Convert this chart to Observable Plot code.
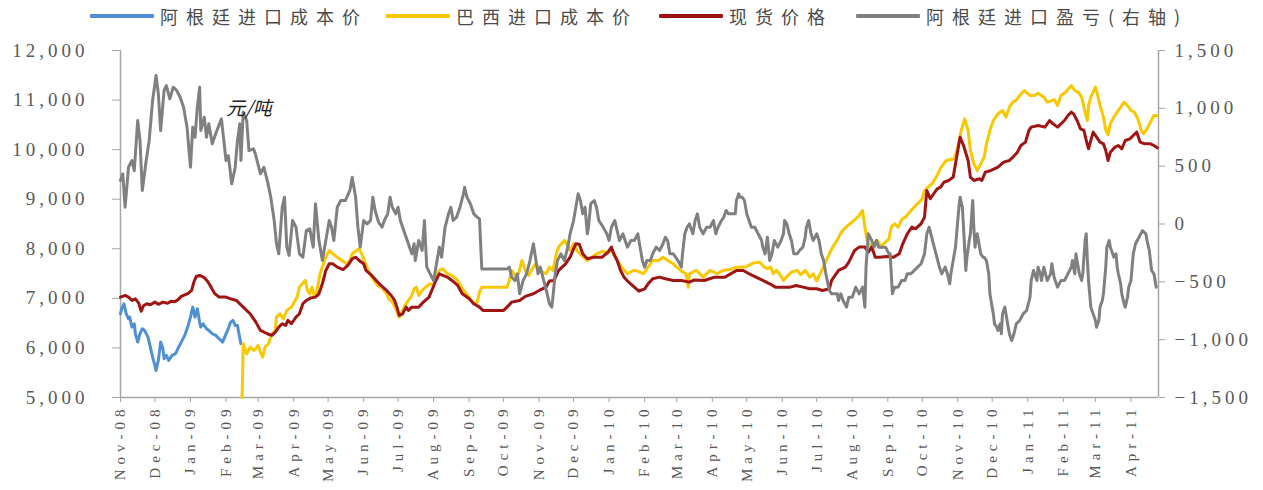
<!DOCTYPE html>
<html><head><meta charset="utf-8">
<script src="https://cdn.jsdelivr.net/npm/d3@7"></script>
<script src="https://cdn.jsdelivr.net/npm/@observablehq/plot@0.6"></script>
<style>
body{margin:0;background:#fff;width:1263px;height:490px;overflow:hidden;font-family:"Noto Sans CJK SC",sans-serif;}
#legend{position:relative;height:30px;width:1263px;}
.item{position:absolute;top:0;height:32px;display:flex;align-items:center;}
.swatch{width:64px;height:4px;margin-right:6px;border-radius:1px;}
.lab{font-size:18px;letter-spacing:8px;color:#4a4a4a;white-space:nowrap;}
#chart svg text{font-family:"Liberation Serif",serif;}
#chart [aria-label="y-axis tick label"] text{letter-spacing:4px;}
#chart [aria-label="x-axis tick label"] text{letter-spacing:5px;}
#chart [aria-label="y-axis tick"],#chart [aria-label="x-axis tick"]{stroke:#a6a6a6;}
#chart [aria-label="y-axis tick label"],#chart [aria-label="x-axis tick label"]{fill:#595959;}
#chart svg text.note, #chart svg .note text{font-family:"Noto Sans CJK SC",sans-serif;}
</style></head><body>
<div id="legend"></div>
<div id="chart"></div>
<script>
// ---- data ----
const seriesNames = ["阿根廷进口成本价", "巴西进口成本价", "现货价格", "阿根廷进口盈亏(右轴)"];
const seriesColors = ["#4f8fd6", "#f9c800", "#a01414", "#808080"];
const leftTicks = [5000, 6000, 7000, 8000, 9000, 10000, 11000, 12000];
const rightTicks = [-1500, -1000, -500, 0, 500, 1000, 1500];
const unitLabel = "元/吨";

const argentinaCost = [
["2008-11-01",6689],["2008-11-02",6790],["2008-11-04",6891],["2008-11-06",6689],["2008-11-08",6588],["2008-11-09",6622],
["2008-11-11",6421],["2008-11-13",6488],["2008-11-14",6286],["2008-11-16",6118],["2008-11-18",6286],["2008-11-20",6387],
["2008-11-22",6353],["2008-11-25",6219],["2008-11-27",6017],["2008-11-29",5815],["2008-12-01",5647],["2008-12-02",5546],
["2008-12-04",5748],["2008-12-06",6118],["2008-12-08",5983],["2008-12-09",5782],["2008-12-11",5850],["2008-12-13",5748],
["2008-12-16",5850],["2008-12-19",5883],["2008-12-21",5983],["2008-12-24",6118],["2008-12-27",6253],["2008-12-30",6454],
["2009-01-01",6622],["2009-01-03",6823],["2009-01-05",6622],["2009-01-07",6790],["2009-01-09",6521],["2009-01-10",6421],
["2009-01-12",6488],["2009-01-15",6387],["2009-01-17",6353],["2009-01-20",6286],["2009-01-23",6253],["2009-01-26",6185],
["2009-01-29",6118],["2009-02-01",6286],["2009-02-03",6387],["2009-02-05",6521],["2009-02-07",6555],["2009-02-09",6454],
["2009-02-11",6454],["2009-02-12",6320],["2009-02-14",6084]
];

const brazilCost = [
["2009-02-15",5000],["2009-02-16",6084],["2009-02-19",5883],["2009-02-22",6017],["2009-02-25",5950],["2009-02-27",5983],
["2009-03-01",6050],["2009-03-03",5916],["2009-03-05",5815],["2009-03-07",6017],["2009-03-10",6084],["2009-03-13",6286],
["2009-03-16",6353],["2009-03-17",6622],["2009-03-20",6689],["2009-03-23",6588],["2009-03-26",6756],["2009-03-30",6823],
["2009-04-04",7025],["2009-04-06",7226],["2009-04-09",7310],["2009-04-11",7361],["2009-04-13",7159],["2009-04-15",7092],
["2009-04-17",7226],["2009-04-19",7025],["2009-04-21",7126],["2009-04-24",7496],["2009-04-29",7831],["2009-05-02",7966],
["2009-05-05",7899],["2009-05-09",7831],["2009-05-14",7750],["2009-05-17",7697],["2009-05-20",7764],["2009-05-22",7899],
["2009-05-25",7950],["2009-05-28",8000],["2009-05-31",7865],["2009-06-02",7730],["2009-06-05",7563],["2009-06-09",7395],
["2009-06-13",7260],["2009-06-17",7210],["2009-06-21",7092],["2009-06-23",6991],["2009-06-26",6924],["2009-06-29",6790],
["2009-07-02",6622],["2009-07-05",6756],["2009-07-08",6891],["2009-07-10",6958],["2009-07-13",7058],["2009-07-15",7193],
["2009-07-17",7226],["2009-07-19",7058],["2009-07-22",7159],["2009-07-25",7226],["2009-07-29",7294],["2009-08-01",7260],
["2009-08-03",7428],["2009-08-06",7563],["2009-08-09",7597],["2009-08-13",7496],["2009-08-17",7462],["2009-08-22",7361],
["2009-08-26",7193],["2009-09-01",7025],["2009-09-05",6891],["2009-09-08",6924],["2009-09-10",7126],["2009-09-12",7226],
["2009-10-04",7226],["2009-10-06",7361],["2009-10-08",7563],["2009-10-11",7462],["2009-10-14",7496],["2009-10-17",7764],
["2009-10-20",7563],["2009-10-23",7462],["2009-10-26",7597],["2009-10-29",7697],["2009-11-01",7563],["2009-11-07",7496],
["2009-11-10",7630],["2009-11-13",7563],["2009-11-16",7899],["2009-11-18",8034],["2009-11-23",8168],["2009-11-26",8067],
["2009-11-28",7966],["2009-12-01",8101],["2009-12-04",7966],["2009-12-08",7865],["2009-12-13",7764],["2009-12-17",7831],
["2009-12-21",7899],["2009-12-26",7950],["2009-12-31",7910],["2010-01-03",7980],["2010-01-06",7865],["2010-01-09",7730],
["2010-01-13",7597],["2010-01-17",7496],["2010-01-22",7563],["2010-01-26",7550],["2010-01-31",7496],["2010-02-04",7630],
["2010-02-08",7764],["2010-02-13",7764],["2010-02-17",7831],["2010-02-22",7750],["2010-02-26",7697],["2010-03-01",7630],
["2010-03-05",7550],["2010-03-09",7496],["2010-03-11",7226],["2010-03-12",7496],["2010-03-18",7563],["2010-03-24",7428],
["2010-03-30",7563],["2010-04-05",7496],["2010-04-10",7563],["2010-04-16",7580],["2010-04-22",7630],["2010-05-01",7640],
["2010-05-06",7710],["2010-05-12",7731],["2010-05-16",7640],["2010-05-19",7597],["2010-05-22",7630],["2010-05-24",7496],
["2010-05-27",7563],["2010-05-30",7480],["2010-06-02",7361],["2010-06-05",7440],["2010-06-09",7530],["2010-06-14",7563],
["2010-06-17",7480],["2010-06-21",7563],["2010-06-25",7428],["2010-06-28",7496],["2010-07-01",7350],["2010-07-04",7496],
["2010-07-08",7697],["2010-07-12",7899],["2010-07-15",8034],["2010-07-19",8180],["2010-07-22",8317],["2010-07-26",8425],
["2010-07-30",8505],["2010-08-03",8585],["2010-08-07",8672],["2010-08-10",8773],["2010-08-12",8437],["2010-08-14",8168],
["2010-08-17",8047],["2010-08-20",8114],["2010-08-23",8168],["2010-08-26",8034],["2010-08-29",8114],["2010-09-02",8200],
["2010-09-04",8437],["2010-09-07",8505],["2010-09-10",8437],["2010-09-13",8585],["2010-09-17",8652],["2010-09-20",8740],
["2010-09-24",8840],["2010-09-27",8908],["2010-10-01",9009],["2010-10-03",9176],["2010-10-06",9244],["2010-10-10",9325],
["2010-10-14",9480],["2010-10-17",9633],["2010-10-22",9781],["2010-10-29",9815],["2010-11-01",10050],["2010-11-04",10386],
["2010-11-07",10622],["2010-11-10",10386],["2010-11-12",9983],["2010-11-15",9714],["2010-11-18",9580],["2010-11-21",9714],
["2010-11-24",9848],["2010-11-26",10118],["2010-11-29",10386],["2010-12-02",10588],["2010-12-06",10723],["2010-12-10",10790],
["2010-12-13",10656],["2010-12-16",10857],["2010-12-19",10958],["2010-12-22",10992],["2010-12-25",11092],["2010-12-29",11193],
["2011-01-03",11092],["2011-01-07",11092],["2011-01-10",11140],["2011-01-15",11058],["2011-01-18",10958],["2011-01-21",10980],
["2011-01-24",11010],["2011-01-27",10891],["2011-01-30",11092],["2011-02-03",11159],["2011-02-08",11294],["2011-02-11",11193],
["2011-02-14",11159],["2011-02-17",11058],["2011-02-20",10756],["2011-02-22",10588],["2011-02-23",10891],["2011-02-25",11058],
["2011-02-27",11159],["2011-03-01",11260],["2011-03-03",11092],["2011-03-05",10891],["2011-03-08",10656],["2011-03-10",10400],
["2011-03-12",10300],["2011-03-14",10521],["2011-03-17",10656],["2011-03-20",10756],["2011-03-23",10857],["2011-03-26",10958],
["2011-03-29",10891],["2011-04-01",10790],["2011-04-04",10756],["2011-04-07",10622],["2011-04-10",10386],["2011-04-12",10319],
["2011-04-15",10420],["2011-04-18",10555],["2011-04-21",10689],["2011-04-24",10689]
];

const spotPrice = [
["2008-11-01",7025],["2008-11-05",7060],["2008-11-08",7025],["2008-11-11",6958],["2008-11-14",6990],["2008-11-17",6900],
["2008-11-19",6740],["2008-11-21",6850],["2008-11-24",6891],["2008-11-27",6870],["2008-12-01",6924],["2008-12-04",6880],
["2008-12-08",6924],["2008-12-12",6900],["2008-12-15",6940],["2008-12-18",6930],["2008-12-21",6970],["2008-12-24",7040],
["2008-12-27",7070],["2008-12-30",7100],["2009-01-02",7160],["2009-01-04",7330],["2009-01-06",7440],["2009-01-09",7462],
["2009-01-13",7420],["2009-01-16",7340],["2009-01-19",7226],["2009-01-22",7100],["2009-01-26",7025],["2009-02-01",7025],
["2009-02-05",6991],["2009-02-10",6958],["2009-02-16",6823],["2009-02-22",6689],["2009-02-27",6521],["2009-03-03",6353],
["2009-03-09",6286],["2009-03-13",6252],["2009-03-16",6320],["2009-03-19",6421],["2009-03-22",6488],["2009-03-25",6454],
["2009-03-27",6555],["2009-03-30",6488],["2009-04-03",6622],["2009-04-06",6689],["2009-04-09",6891],["2009-04-12",6958],
["2009-04-16",7010],["2009-04-20",7025],["2009-04-23",7092],["2009-04-26",7294],["2009-04-29",7563],["2009-05-02",7697],
["2009-05-05",7697],["2009-05-09",7630],["2009-05-14",7580],["2009-05-18",7660],["2009-05-22",7798],["2009-05-25",7831],
["2009-05-28",7764],["2009-06-01",7697],["2009-06-03",7563],["2009-06-08",7462],["2009-06-12",7361],["2009-06-16",7260],
["2009-06-21",7159],["2009-06-25",7058],["2009-06-28",6958],["2009-06-30",6823],["2009-07-02",6656],["2009-07-05",6689],
["2009-07-08",6823],["2009-07-10",6756],["2009-07-13",6823],["2009-07-19",6823],["2009-07-23",6924],["2009-07-28",7025],
["2009-07-31",7193],["2009-08-03",7361],["2009-08-06",7496],["2009-08-09",7462],["2009-08-13",7428],["2009-08-17",7361],
["2009-08-22",7260],["2009-08-26",7092],["2009-09-01",6991],["2009-09-05",6891],["2009-09-10",6823],["2009-09-13",6756],
["2009-10-01",6756],["2009-10-04",6823],["2009-10-08",6924],["2009-10-15",6958],["2009-10-20",7040],["2009-10-27",7092],
["2009-11-01",7159],["2009-11-07",7226],["2009-11-10",7350],["2009-11-14",7361],["2009-11-18",7563],["2009-11-24",7697],
["2009-11-28",7831],["2009-12-01",8000],["2009-12-03",8101],["2009-12-06",8090],["2009-12-09",7899],["2009-12-13",7798],
["2009-12-19",7831],["2009-12-26",7831],["2009-12-31",7933],["2010-01-03",8034],["2010-01-05",7899],["2010-01-08",7764],
["2010-01-11",7563],["2010-01-14",7428],["2010-01-18",7327],["2010-01-23",7226],["2010-01-27",7145],["2010-02-01",7193],
["2010-02-04",7294],["2010-02-08",7395],["2010-02-14",7428],["2010-02-19",7395],["2010-02-26",7361],["2010-03-05",7361],
["2010-03-12",7327],["2010-03-16",7370],["2010-03-25",7361],["2010-04-03",7428],["2010-04-12",7428],["2010-04-22",7563],
["2010-04-28",7563],["2010-05-03",7496],["2010-05-09",7428],["2010-05-15",7361],["2010-05-21",7294],["2010-05-26",7226],
["2010-06-02",7226],["2010-06-08",7226],["2010-06-13",7260],["2010-06-19",7226],["2010-06-25",7193],["2010-07-01",7193],
["2010-07-06",7159],["2010-07-12",7193],["2010-07-14",7361],["2010-07-20",7563],["2010-07-26",7630],["2010-07-29",7731],
["2010-08-03",7966],["2010-08-07",8034],["2010-08-12",8034],["2010-08-15",7933],["2010-08-18",8034],["2010-08-21",7831],
["2010-08-25",7831],["2010-08-31",7845],["2010-09-06",7831],["2010-09-11",7899],["2010-09-14",8101],["2010-09-18",8303],
["2010-09-22",8437],["2010-09-25",8404],["2010-09-30",8505],["2010-10-03",8638],["2010-10-05",9176],["2010-10-08",9009],
["2010-10-11",9110],["2010-10-14",9210],["2010-10-17",9244],["2010-10-20",9344],["2010-10-24",9378],["2010-10-28",9445],
["2010-11-01",9983],["2010-11-03",10252],["2010-11-06",10084],["2010-11-10",9781],["2010-11-12",9445],["2010-11-15",9378],
["2010-11-20",9412],["2010-11-22",9378],["2010-11-25",9546],["2010-11-30",9580],["2010-12-06",9647],["2010-12-11",9747],
["2010-12-16",9781],["2010-12-19",9848],["2010-12-23",9949],["2010-12-26",10084],["2010-12-30",10151],["2011-01-02",10387],
["2011-01-04",10454],["2011-01-10",10487],["2011-01-16",10454],["2011-01-20",10588],["2011-01-23",10521],["2011-01-27",10454],
["2011-02-02",10588],["2011-02-05",10689],["2011-02-08",10756],["2011-02-10",10722],["2011-02-13",10588],["2011-02-16",10420],
["2011-02-19",10387],["2011-02-21",10185],["2011-02-23",10017],["2011-02-25",10185],["2011-02-27",10353],["2011-03-02",10252],
["2011-03-05",10151],["2011-03-08",10118],["2011-03-10",9983],["2011-03-12",9781],["2011-03-14",9949],["2011-03-18",10050],
["2011-03-21",10084],["2011-03-24",10017],["2011-03-27",10185],["2011-03-31",10218],["2011-04-03",10286],["2011-04-06",10353],
["2011-04-09",10151],["2011-04-13",10118],["2011-04-18",10118],["2011-04-21",10084],["2011-04-24",10037]
];

const argentinaMargin = [
["2008-11-01",376],["2008-11-03",434],["2008-11-05",145],["2008-11-08",491],["2008-11-11",549],["2008-11-13",462],
["2008-11-16",895],["2008-11-18",722],["2008-11-20",290],["2008-11-23",520],["2008-11-26",722],["2008-11-29",1068],
["2008-12-02",1284],["2008-12-04",1126],["2008-12-06",808],["2008-12-09",1154],["2008-12-11",1197],["2008-12-14",1082],
["2008-12-17",1183],["2008-12-20",1154],["2008-12-23",1096],["2008-12-26",1010],["2008-12-29",837],["2009-01-01",491],
["2009-01-03",837],["2009-01-05",750],["2009-01-07",1010],["2009-01-09",1183],["2009-01-10",808],["2009-01-13",924],
["2009-01-15",750],["2009-01-17",866],["2009-01-20",693],["2009-01-23",780],["2009-01-28",909],["2009-02-01",549],
["2009-02-03",592],["2009-02-06",347],["2009-02-09",491],["2009-02-11",722],["2009-02-13",866],["2009-02-14",549],
["2009-02-16",967],["2009-02-19",895],["2009-02-21",635],["2009-02-25",650],["2009-02-27",592],["2009-03-03",434],
["2009-03-06",491],["2009-03-09",376],["2009-03-12",232],["2009-03-15",30],["2009-03-17",-171],["2009-03-19",-258],
["2009-03-22",145],["2009-03-24",232],["2009-03-26",-200],["2009-03-28",-272],["2009-03-31",30],["2009-04-03",-28],
["2009-04-06",-258],["2009-04-09",-287],["2009-04-12",-57],["2009-04-15",-42],["2009-04-18",-200],["2009-04-20",175],
["2009-04-23",-143],["2009-04-26",-316],["2009-04-29",-143],["2009-05-02",30],["2009-05-04",-28],["2009-05-06",-143],
["2009-05-09",145],["2009-05-12",203],["2009-05-16",203],["2009-05-20",290],["2009-05-22",405],["2009-05-25",232],
["2009-05-27",-28],["2009-05-29",-200],["2009-06-01",30],["2009-06-04",1],["2009-06-07",30],["2009-06-09",232],
["2009-06-11",117],["2009-06-14",15],["2009-06-17",-28],["2009-06-19",30],["2009-06-22",88],["2009-06-24",232],
["2009-06-26",145],["2009-06-29",88],["2009-07-01",145],["2009-07-03",30],["2009-07-05",-28],["2009-07-08",-114],
["2009-07-10",-171],["2009-07-13",-258],["2009-07-15",-171],["2009-07-16",-316],["2009-07-19",-143],["2009-07-22",-229],
["2009-07-24",30],["2009-07-26",-373],["2009-07-29",-431],["2009-08-01",-489],["2009-08-04",-316],["2009-08-06",-200],
["2009-08-08",-287],["2009-08-11",-28],["2009-08-14",88],["2009-08-16",145],["2009-08-18",30],["2009-08-21",59],
["2009-08-24",145],["2009-08-27",261],["2009-08-28",318],["2009-08-30",232],["2009-09-02",175],["2009-09-05",88],
["2009-09-08",59],["2009-09-10",44],["2009-09-12",-388],["2009-09-22",-388],["2009-10-04",-388],["2009-10-06",-373],
["2009-10-08",-460],["2009-10-11",-489],["2009-10-13",-431],["2009-10-15",-604],["2009-10-18",-489],["2009-10-21",-431],
["2009-10-24",-316],["2009-10-27",-171],["2009-10-31",-431],["2009-11-02",-373],["2009-11-05",-489],["2009-11-08",-604],
["2009-11-10",-690],["2009-11-12",-719],["2009-11-13",-633],["2009-11-15",-431],["2009-11-17",-316],["2009-11-20",-258],
["2009-11-23",-316],["2009-11-26",-200],["2009-11-28",-85],["2009-12-01",30],["2009-12-03",145],["2009-12-05",261],
["2009-12-07",203],["2009-12-09",88],["2009-12-11",145],["2009-12-13",-85],["2009-12-14",-28],["2009-12-16",175],
["2009-12-19",203],["2009-12-21",145],["2009-12-23",30],["2009-12-26",-14],["2009-12-30",-85],["2010-01-01",-143],
["2010-01-03",-28],["2010-01-06",30],["2010-01-08",-57],["2010-01-10",-143],["2010-01-13",-85],["2010-01-15",-143],
["2010-01-17",-200],["2010-01-20",-143],["2010-01-23",-143],["2010-01-26",-85],["2010-01-28",-200],["2010-01-30",-316],
["2010-02-01",-373],["2010-02-03",-316],["2010-02-06",-316],["2010-02-08",-258],["2010-02-11",-200],["2010-02-14",-229],
["2010-02-17",-171],["2010-02-19",-114],["2010-02-21",-143],["2010-02-23",-258],["2010-02-26",-258],["2010-02-28",-287],
["2010-03-02",-316],["2010-03-05",-373],["2010-03-06",-258],["2010-03-08",-85],["2010-03-10",-28],["2010-03-12",1],
["2010-03-15",-85],["2010-03-17",30],["2010-03-19",88],["2010-03-21",-28],["2010-03-24",-85],["2010-03-27",-28],
["2010-03-30",-28],["2010-04-02",30],["2010-04-04",-85],["2010-04-06",-28],["2010-04-09",30],["2010-04-11",59],
["2010-04-13",117],["2010-04-15",88],["2010-04-18",88],["2010-04-21",88],["2010-04-22",203],["2010-04-24",261],
["2010-04-25",232],["2010-04-27",232],["2010-04-29",203],["2010-05-01",88],["2010-05-03",30],["2010-05-05",-28],
["2010-05-08",-28],["2010-05-11",-85],["2010-05-14",-143],["2010-05-15",-200],["2010-05-17",-258],["2010-05-19",-114],
["2010-05-21",-316],["2010-05-23",-258],["2010-05-25",-143],["2010-05-28",-200],["2010-05-31",-143],["2010-06-02",-85],
["2010-06-03",30],["2010-06-05",1],["2010-06-07",-85],["2010-06-09",-143],["2010-06-11",-258],["2010-06-14",-258],
["2010-06-16",-229],["2010-06-19",-200],["2010-06-21",-114],["2010-06-22",-28],["2010-06-24",30],["2010-06-26",-85],
["2010-06-28",-143],["2010-07-01",-85],["2010-07-03",-143],["2010-07-05",-258],["2010-07-07",-316],["2010-07-09",-431],
["2010-07-12",-575],["2010-07-14",-604],["2010-07-17",-604],["2010-07-19",-604],["2010-07-20",-661],["2010-07-22",-604],
["2010-07-24",-661],["2010-07-27",-719],["2010-07-29",-633],["2010-08-01",-633],["2010-08-04",-546],["2010-08-07",-604],
["2010-08-10",-546],["2010-08-12",-719],["2010-08-13",-373],["2010-08-15",-85],["2010-08-18",-143],["2010-08-20",-200],
["2010-08-22",-143],["2010-08-24",-200],["2010-08-27",-200],["2010-08-30",-200],["2010-09-02",-258],["2010-09-03",-258],
["2010-09-05",-604],["2010-09-07",-546],["2010-09-10",-546],["2010-09-13",-489],["2010-09-16",-489],["2010-09-18",-431],
["2010-09-21",-431],["2010-09-24",-402],["2010-09-27",-373],["2010-09-30",-344],["2010-10-03",-258],["2010-10-05",-85],
["2010-10-07",-28],["2010-10-10",-143],["2010-10-13",-258],["2010-10-16",-373],["2010-10-18",-431],["2010-10-21",-373],
["2010-10-23",-431],["2010-10-25",-517],["2010-10-26",-431],["2010-10-28",-316],["2010-10-30",-200],["2010-11-02",145],
["2010-11-03",232],["2010-11-05",145],["2010-11-06",-28],["2010-11-08",-402],["2010-11-09",-287],["2010-11-11",-143],
["2010-11-12",-85],["2010-11-14",203],["2010-11-15",-28],["2010-11-16",-200],["2010-11-18",-85],["2010-11-19",-143],
["2010-11-21",-258],["2010-11-23",-287],["2010-11-24",-287],["2010-11-26",-316],["2010-11-28",-431],["2010-11-29",-604],
["2010-12-01",-719],["2010-12-02",-777],["2010-12-03",-863],["2010-12-05",-892],["2010-12-06",-921],["2010-12-08",-863],
["2010-12-09",-949],["2010-12-10",-777],["2010-12-12",-719],["2010-12-13",-777],["2010-12-15",-892],["2010-12-16",-949],
["2010-12-18",-1007],["2010-12-20",-949],["2010-12-22",-863],["2010-12-25",-834],["2010-12-28",-777],["2010-12-31",-748],
["2011-01-03",-633],["2011-01-04",-489],["2011-01-06",-402],["2011-01-07",-431],["2011-01-09",-489],["2011-01-10",-373],
["2011-01-12",-431],["2011-01-13",-489],["2011-01-15",-373],["2011-01-18",-489],["2011-01-21",-431],["2011-01-22",-344],
["2011-01-24",-460],["2011-01-27",-546],["2011-01-30",-489],["2011-02-02",-489],["2011-02-05",-431],["2011-02-08",-373],
["2011-02-09",-316],["2011-02-11",-431],["2011-02-12",-258],["2011-02-14",-373],["2011-02-15",-431],["2011-02-17",-489],
["2011-02-18",-431],["2011-02-20",-143],["2011-02-21",-85],["2011-02-22",-316],["2011-02-23",-489],["2011-02-24",-604],
["2011-02-25",-719],["2011-02-27",-777],["2011-03-01",-834],["2011-03-02",-892],["2011-03-04",-834],["2011-03-05",-719],
["2011-03-07",-661],["2011-03-08",-604],["2011-03-10",-373],["2011-03-11",-200],["2011-03-13",-143],["2011-03-14",-200],
["2011-03-16",-258],["2011-03-17",-287],["2011-03-19",-258],["2011-03-20",-373],["2011-03-21",-431],["2011-03-23",-517],
["2011-03-24",-604],["2011-03-26",-690],["2011-03-27",-719],["2011-03-29",-633],["2011-03-30",-546],["2011-04-01",-489],
["2011-04-02",-373],["2011-04-03",-258],["2011-04-05",-171],["2011-04-08",-114],["2011-04-11",-57],["2011-04-14",-85],
["2011-04-15",-143],["2011-04-17",-229],["2011-04-18",-316],["2011-04-19",-402],["2011-04-21",-431],["2011-04-22",-489],
["2011-04-23",-546]
];

const dateRange = ["2008-11-01", "2011-04-25"];
const note = [["2009-02-21", 10830, unitLabel]];

// ---- build ----
const parse = d3.utcParse("%Y-%m-%d");
const leftDomain = [leftTicks[0], leftTicks[leftTicks.length - 1]];
const rightDomain = [rightTicks[0], rightTicks[rightTicks.length - 1]];
const toLeft = v => leftDomain[0] + (v - rightDomain[0]) * (leftDomain[1] - leftDomain[0]) / (rightDomain[1] - rightDomain[0]);
const fromLeft = v => rightDomain[0] + (v - leftDomain[0]) * (rightDomain[1] - rightDomain[0]) / (leftDomain[1] - leftDomain[0]);
const rows = arr => arr.map(([d, v]) => ({date: parse(d), value: v}));
const xDomain = dateRange.map(parse);
const monthTicks = d3.utcMonth.range(xDomain[0], xDomain[1]);
const fmt = d3.format(",");

const blueRows = rows(argentinaCost);
const yellowRows = rows(brazilCost);
const redRows = rows(spotPrice);
const grayRows = argentinaMargin.map(([d, v]) => ({date: parse(d), value: toLeft(v)}));
const noteRows = note.map(([d, v, t]) => ({date: parse(d), value: v, text: t}));

const lineOpts = (i) => ({x: "date", y: "value", stroke: seriesColors[i], strokeWidth: 3, strokeLinejoin: "round"});

const chart = Plot.plot({
  width: 1263,
  height: 460,
  marginTop: 20,
  marginBottom: 93,
  marginLeft: 120,
  marginRight: 105,
  x: {type: "utc", domain: xDomain},
  y: {domain: leftDomain},
  style: {background: "#fff", color: "#595959", overflow: "visible"},
  marks: [
    Plot.ruleY([leftDomain[0]], {stroke: "#a6a6a6", strokeWidth: 1.5}),
    Plot.ruleX([xDomain[0]], {stroke: "#a6a6a6", strokeWidth: 1.5}),
    Plot.ruleX([xDomain[1]], {stroke: "#a6a6a6", strokeWidth: 1.5}),
    Plot.axisY(leftTicks, {anchor: "left", label: null, tickSize: 8, tickPadding: 24, fontSize: 19, tickFormat: d => fmt(d)}),
    Plot.axisY(rightTicks.map(toLeft), {anchor: "right", label: null, tickSize: 6, tickPadding: 10, fontSize: 19, tickFormat: d => fmt(Math.round(fromLeft(d)))}),
    Plot.axisX(monthTicks, {anchor: "bottom", label: null, tickRotate: -90, tickSize: 5, tickPadding: 2, fontSize: 15, tickFormat: d3.utcFormat("%b-%y")}),
    Plot.lineY(blueRows, lineOpts(0)),
    Plot.lineY(yellowRows, lineOpts(1)),
    Plot.lineY(redRows, lineOpts(2)),
    Plot.lineY(grayRows, lineOpts(3)),
    Plot.text(noteRows, {x: "date", y: "value", text: "text", fontSize: 19, fill: "#222", fontStyle: "italic", className: "note"})
  ]
});
document.getElementById("chart").appendChild(chart);

// ---- legend ----
const legendPos = [90, 386, 659, 856];
const legend = document.getElementById("legend");
seriesNames.forEach((name, i) => {
  const item = document.createElement("div");
  item.className = "item";
  item.style.left = legendPos[i] + "px";
  const sw = document.createElement("div");
  sw.className = "swatch";
  sw.style.background = seriesColors[i];
  const lab = document.createElement("span");
  lab.className = "lab";
  lab.textContent = name;
  item.appendChild(sw);
  item.appendChild(lab);
  legend.appendChild(item);
});
</script></body></html>
